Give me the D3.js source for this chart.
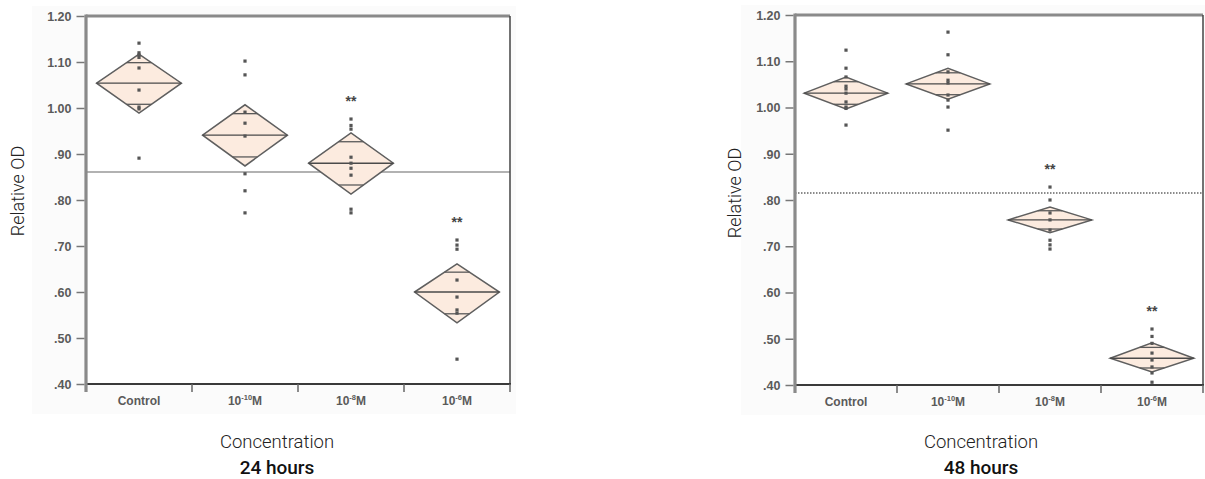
<!DOCTYPE html>
<html><head><meta charset="utf-8">
<script src="https://cdn.jsdelivr.net/npm/d3@7"></script>
<style>
body{margin:0;background:#fff;}
svg{display:block;}
</style></head>
<body>
<svg id="chart" width="1205" height="479"></svg>
<script>
// ---------- data ----------
const categories = ["Control", "10^{-10}M", "10^{-8}M", "10^{-6}M"];
const yTickValues = [1.2, 1.1, 1.0, 0.9, 0.8, 0.7, 0.6, 0.5, 0.4];
const yTickLabels = ["1.20", "1.10", "1.00", ".90", ".80", ".70", ".60", ".50", ".40"];
const significant = [false, false, true, true];

// 24 hours
const h24Points = [
  [1.141, 1.12, 1.115, 1.11, 1.087, 1.039, 1.002, 0.998, 0.891],
  [1.102, 1.072, 0.991, 0.967, 0.939, 0.857, 0.820, 0.772],
  [0.976, 0.962, 0.954, 0.893, 0.880, 0.869, 0.854, 0.780, 0.772],
  [0.713, 0.702, 0.693, 0.626, 0.589, 0.561, 0.554, 0.454]
];
const h24Mean = [1.054, 0.941, 0.880, 0.600];
const h24CiLow = [0.989, 0.874, 0.813, 0.533];
const h24CiHigh = [1.117, 1.007, 0.946, 0.661];
const h24Grand = 0.861;

// 48 hours
const h48Points = [
  [1.124, 1.085, 1.066, 1.046, 1.040, 1.031, 1.012, 1.001, 0.998, 0.962],
  [1.163, 1.114, 1.077, 1.059, 1.053, 1.027, 1.016, 1.001, 0.951],
  [0.828, 0.800, 0.772, 0.757, 0.735, 0.713, 0.703, 0.694],
  [0.521, 0.505, 0.490, 0.469, 0.454, 0.439, 0.426, 0.406]
];
const h48Mean = [1.031, 1.051, 0.757, 0.458];
const h48CiLow = [0.997, 1.018, 0.729, 0.428];
const h48CiHigh = [1.066, 1.085, 0.785, 0.491];
const h48Grand = 0.815;

// ---------- drawing ----------
const svg = d3.select("#chart");

function drawPanel(cfg) {
  const {left, right, top, bottom, points, mean, lo, hi, grand, dotted, title, axisTitleX, xTitleCenter, labelRight} = cfg;
  const g = svg.append("g");
  const x = d3.scaleBand().domain(categories).range([left, right]).padding(0);
  const y = d3.scaleLinear().domain([0.4, 1.2]).range([bottom, top]);
  const bw = x.bandwidth();
  const halfW = bw * cfg.diamondFrac / 2;

  // faint scan background
  g.append("rect").attr("x", labelRight - 40).attr("y", top - 10)
    .attr("width", right - labelRight + 46).attr("height", bottom - top + 40)
    .attr("fill", "#fbfbfb");
  g.append("rect").attr("x", left).attr("y", top).attr("width", right - left).attr("height", bottom - top)
    .attr("fill", "#fff");

  // grand mean line
  g.append("line").attr("x1", left).attr("x2", right).attr("y1", y(grand)).attr("y2", y(grand))
    .attr("stroke", dotted ? "#666" : "#999").attr("stroke-width", dotted ? 1.5 : 1.6)
    .attr("stroke-dasharray", dotted ? "1.5,1.5" : null);

  // diamonds
  categories.forEach((c, i) => {
    const cx = x(c) + bw / 2;
    const yc = y(mean[i]), yt = y(hi[i]), yb = y(lo[i]);
    const path = `M${cx - halfW},${yc} L${cx},${yt} L${cx + halfW},${yc} L${cx},${yb} Z`;
    g.append("path").attr("d", path).attr("fill", "#fcebdf").attr("stroke", "#5f5f5f").attr("stroke-width", 1.5);
    // mean line
    g.append("line").attr("x1", cx - halfW).attr("x2", cx + halfW).attr("y1", yc).attr("y2", yc)
      .attr("stroke", "#4a4a4a").attr("stroke-width", 1.4);
    // overlap marks
    const f = 1 / Math.SQRT2;
    [[hi[i], yt], [lo[i], yb]].forEach(([v, yv]) => {
      const ym = yc + (yv - yc) * f;
      const w = halfW * (1 - f);
      g.append("line").attr("x1", cx - w).attr("x2", cx + w).attr("y1", ym).attr("y2", ym)
        .attr("stroke", "#5a5a5a").attr("stroke-width", 1.3);
    });
    // points
    g.selectAll(null).data(points[i]).enter().append("rect")
      .attr("x", cx - 1.6).attr("y", d => y(d) - 1.6).attr("width", 3.2).attr("height", 3.2)
      .attr("fill", "#555");
    // significance
    if (significant[i]) {
      g.append("text").attr("x", cx).attr("y", y(d3.max(points[i])) - 13)
        .attr("text-anchor", "middle").attr("font-family", "Liberation Sans, Arial, sans-serif")
        .attr("font-size", 14).attr("font-weight", "bold").attr("fill", "#444").text("**");
    }
  });

  // frame
  g.append("line").attr("x1", left).attr("x2", right).attr("y1", top).attr("y2", top)
    .attr("stroke", "#8a8a8a").attr("stroke-width", 3);
  g.append("line").attr("x1", right).attr("x2", right).attr("y1", top).attr("y2", bottom)
    .attr("stroke", "#444").attr("stroke-width", 1.5);
  g.append("line").attr("x1", left).attr("x2", right + 1).attr("y1", bottom).attr("y2", bottom)
    .attr("stroke", "#3a3a3a").attr("stroke-width", 2.2);
  g.append("line").attr("x1", left).attr("x2", left).attr("y1", top - 1.5).attr("y2", bottom + 8)
    .attr("stroke", "#8a8a8a").attr("stroke-width", 3.2);

  // y ticks
  const yAxis = d3.axisLeft(y).tickValues(yTickValues).tickSize(8).tickPadding(5)
    .tickFormat((d, i) => yTickLabels[i]);
  const ya = g.append("g").attr("transform", `translate(${left - 1.5},0)`).call(yAxis);
  ya.select(".domain").remove();
  ya.selectAll(".tick line").attr("stroke", "#777").attr("stroke-width", 1.5);
  ya.selectAll(".tick text").attr("font-family", "Liberation Sans, Arial, sans-serif")
    .attr("font-size", 12.5).attr("font-weight", "bold").attr("fill", "#5a5a5a").attr("dy", "0.35em");

  // x ticks at band boundaries
  const bounds = categories.map(c => x(c)).concat([right]);
  g.selectAll(null).data(bounds.slice(1)).enter().append("line")
    .attr("x1", d => d).attr("x2", d => d).attr("y1", bottom).attr("y2", bottom + 8)
    .attr("stroke", "#666").attr("stroke-width", 1.5);

  // x labels
  categories.forEach(c => {
    const cx = x(c) + bw / 2;
    const t = g.append("text").attr("x", cx).attr("y", bottom + 21).attr("text-anchor", "middle")
      .attr("font-family", "Liberation Sans, Arial, sans-serif").attr("font-size", 12)
      .attr("font-weight", "bold").attr("fill", "#5a5a5a");
    const m = c.match(/^(.*)\^\{(.*)\}(.*)$/);
    if (m) {
      t.append("tspan").text(m[1]);
      t.append("tspan").attr("font-size", 7.5).attr("dy", -5).text(m[2]);
      t.append("tspan").attr("dy", 5).text(m[3]);
    } else t.text(c);
  });

  // axis titles
  svg.append("text").attr("transform", `translate(${axisTitleX},${cfg.yTitleCenter}) rotate(-90)`)
    .attr("text-anchor", "middle").attr("font-family", "Roboto, sans-serif").attr("font-weight", 300)
    .attr("font-size", 18).attr("fill", "#222").text("Relative OD");
  svg.append("text").attr("x", xTitleCenter).attr("y", 448).attr("text-anchor", "middle")
    .attr("font-family", "Roboto, sans-serif").attr("font-weight", 300).attr("font-size", 18.5)
    .attr("fill", "#222").text("Concentration");
  svg.append("text").attr("x", xTitleCenter).attr("y", 474).attr("text-anchor", "middle")
    .attr("font-family", "Roboto, sans-serif").attr("font-weight", 500).attr("font-size", 19)
    .attr("fill", "#111").text(title);
}

drawPanel({left: 86, right: 510, top: 16, bottom: 384, points: h24Points, mean: h24Mean,
  lo: h24CiLow, hi: h24CiHigh, grand: h24Grand, dotted: false, title: "24 hours",
  axisTitleX: 24, yTitleCenter: 191, xTitleCenter: 277, labelRight: 72, diamondFrac: 0.8});
drawPanel({left: 795, right: 1203, top: 15, bottom: 385, points: h48Points, mean: h48Mean,
  lo: h48CiLow, hi: h48CiHigh, grand: h48Grand, dotted: true, title: "48 hours",
  axisTitleX: 741, yTitleCenter: 193, xTitleCenter: 981, labelRight: 781, diamondFrac: 0.82});
</script>
</body></html>
